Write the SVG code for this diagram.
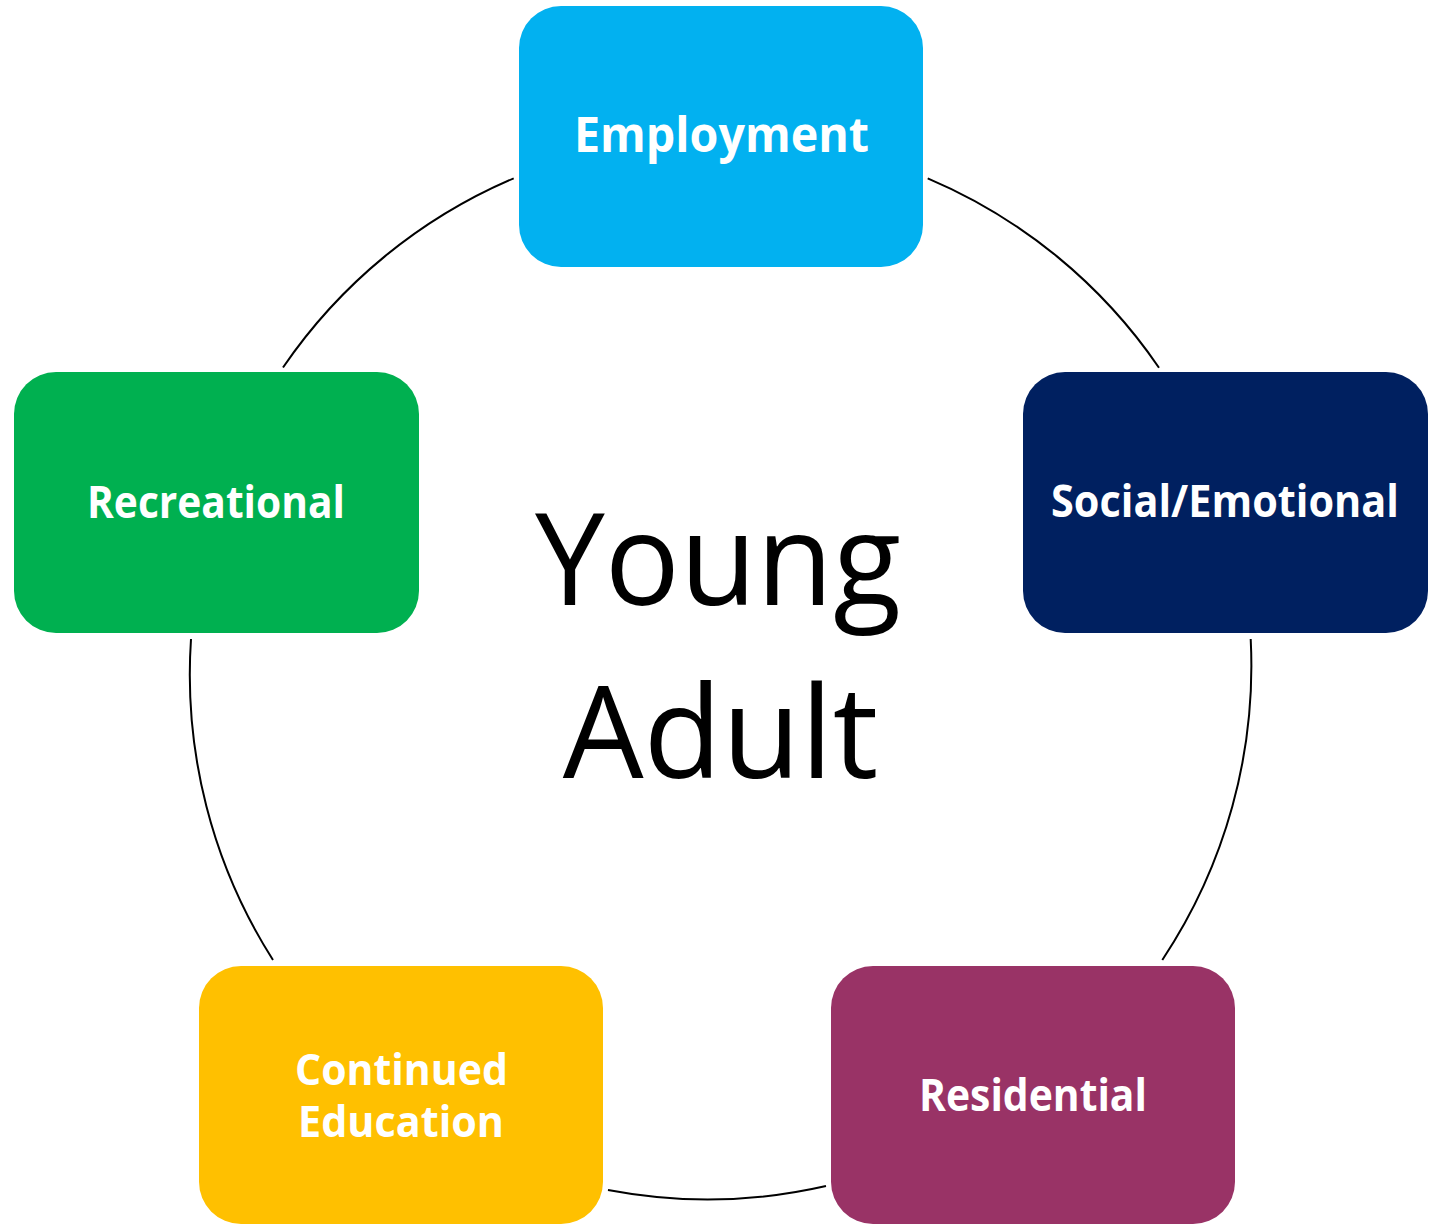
<svg xmlns="http://www.w3.org/2000/svg" width="1437" height="1224" viewBox="0 0 1437 1224">
  <style>
    .box { stroke: none; }
    .lbl { font-family: "Open Sans", "Noto Sans", "Liberation Sans", sans-serif; font-weight: 700; fill: #FFFFFF; text-anchor: middle; }
    .center { font-family: "Open Sans", "Noto Sans", "Liberation Sans", sans-serif; font-weight: 400; fill: #000000; text-anchor: middle; }
    .arc { fill: none; stroke: #000000; stroke-width: 2; }
  </style>
  <rect width="1437" height="1224" fill="#FFFFFF"/>
  <g id="connectors">
    <path class="arc" d="M 283 367.5 A 531 531 0 0 1 513.7 178.3"/>
    <path class="arc" d="M 927.7 178.3 A 531 531 0 0 1 1159 367.7"/>
    <path class="arc" d="M 1250.7 639 A 531 531 0 0 1 1162.3 960"/>
    <path class="arc" d="M 826 1186 A 531 531 0 0 1 608 1190"/>
    <path class="arc" d="M 273 960 A 531 531 0 0 1 191 639"/>
  </g>
  <g id="center">
    <text class="center" x="718" y="605" font-size="128" textLength="366" lengthAdjust="spacingAndGlyphs">Young</text>
    <text class="center" x="720.5" y="778" font-size="128">Adult</text>
  </g>
  <g id="employment">
    <rect class="box" x="519" y="6" width="404" height="261" rx="42" fill="#02B1F0"/>
    <text class="lbl" x="721.5" y="152" font-size="48" textLength="295" lengthAdjust="spacingAndGlyphs">Employment</text>
  </g>
  <g id="social-emotional">
    <rect class="box" x="1023" y="372" width="405" height="261" rx="42" fill="#002060"/>
    <text class="lbl" x="1225" y="517" font-size="44" textLength="348" lengthAdjust="spacingAndGlyphs">Social/Emotional</text>
  </g>
  <g id="recreational">
    <rect class="box" x="14" y="372" width="405" height="261" rx="42" fill="#00B050"/>
    <text class="lbl" x="216" y="518" font-size="44" textLength="258" lengthAdjust="spacingAndGlyphs">Recreational</text>
  </g>
  <g id="continued-education">
    <rect class="box" x="199" y="966" width="404" height="258" rx="42" fill="#FFC000"/>
    <text class="lbl" x="401.5" y="1085" font-size="43" textLength="213" lengthAdjust="spacingAndGlyphs">Continued</text>
    <text class="lbl" x="401" y="1137" font-size="43" textLength="206" lengthAdjust="spacingAndGlyphs">Education</text>
  </g>
  <g id="residential">
    <rect class="box" x="831" y="966" width="404" height="258" rx="42" fill="#993366"/>
    <text class="lbl" x="1033" y="1111" font-size="44" textLength="228" lengthAdjust="spacingAndGlyphs">Residential</text>
  </g>
</svg>
